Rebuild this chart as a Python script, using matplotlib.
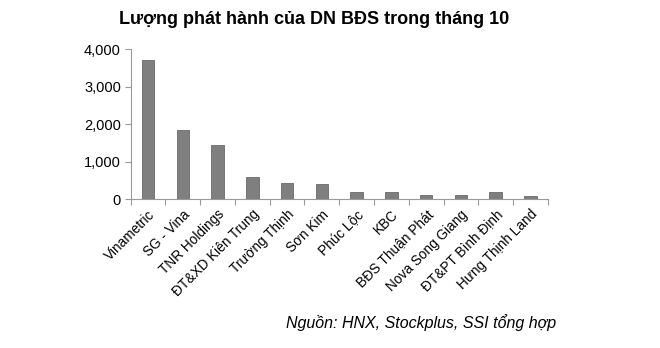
import matplotlib.pyplot as plt
import numpy as np

plt.rcParams['font.family'] = ['Liberation Sans', 'DejaVu Sans']

companies = ['Vinametric', 'SG - Vina', 'TNR Holdings', 'ĐT&XD Kiên Trung',
             'Trường Thịnh', 'Sơn Kim', 'Phúc Lộc', 'KBC', 'BĐS Thuận Phát',
             'Nova Song Giang', 'ĐT&PT Bình Định', 'Hưng Thịnh Land']
values = [3700, 1840, 1430, 590, 430, 395, 200, 200, 115, 105, 200, 90]
yticks = [0, 1000, 2000, 3000, 4000]


def main():
    fig = plt.figure(figsize=(6.6, 3.48), dpi=100)
    ax = fig.add_axes([0.198, 0.428, 0.632, 0.431])

    x = np.arange(len(companies))
    ax.bar(x, values, width=0.36, color='#7f7f7f', edgecolor='#6a6a6a', linewidth=0.6)

    ax.set_xlim(-0.5, len(companies) - 0.5)
    ax.set_ylim(0, 4000)
    ax.set_yticks(yticks)
    ax.set_yticklabels(['{:,}'.format(v) for v in yticks], fontsize=10.5)

    ax.set_xticks(x)
    ax.set_xticklabels(companies, rotation=45, ha='right', rotation_mode='anchor', fontsize=9.8)
    ax.tick_params(axis='x', which='major', length=0, pad=6)
    ax.set_xticks(np.arange(len(companies) + 1) - 0.5, minor=True)
    ax.tick_params(axis='x', which='minor', length=4, color='#999999', width=0.8)
    ax.tick_params(axis='y', length=4, color='#999999', width=0.8, pad=3)

    for s in ['top', 'right']:
        ax.spines[s].set_visible(False)
    for s in ['left', 'bottom']:
        ax.spines[s].set_color('#999999')
        ax.spines[s].set_linewidth(0.8)

    fig.text(0.476, 0.945, 'Lượng phát hành của DN BĐS trong tháng 10',
             ha='center', va='center', fontsize=13, fontweight='bold')
    fig.text(0.843, 0.072, 'Nguồn: HNX, Stockplus, SSI tổng hợp',
             ha='right', va='center', fontsize=11.5, style='italic')

    fig.savefig('out.png', dpi=100)


if __name__ == '__main__':
    main()
